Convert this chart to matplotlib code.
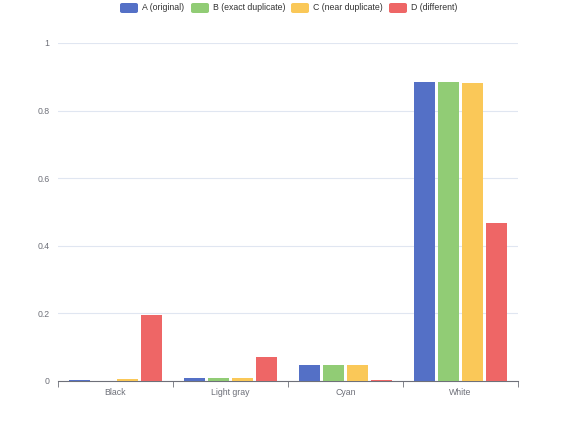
import matplotlib
matplotlib.use("Agg")
import matplotlib.pyplot as plt
from matplotlib.patches import FancyBboxPatch
import numpy as np

categories = ["Black", "Light gray", "Cyan", "White"]
series_names = ["A (original)", "B (exact duplicate)", "C (near duplicate)", "D (different)"]
vals_a = [0.002, 0.008, 0.047, 0.885]
vals_b = [0.001, 0.008, 0.047, 0.885]
vals_c = [0.005, 0.008, 0.046, 0.882]
vals_d = [0.196, 0.071, 0.002, 0.467]
colors = ["#5470c6", "#91cc75", "#fac858", "#ee6666"]
yticks = [0, 0.2, 0.4, 0.6, 0.8, 1]
ytick_labels = ["0", "0.2", "0.4", "0.6", "0.8", "1"]

plt.rcParams['font.family'] = ['Liberation Sans', 'DejaVu Sans']
fig = plt.figure(figsize=(5.76, 4.32), dpi=100)
ax = fig.add_axes([58/576, 1-381/432, 460/576, 338/432])

series = [vals_a, vals_b, vals_c, vals_d]
x = np.arange(len(categories))
w = 0.183
pitch = 0.209
for i, (vals, c) in enumerate(zip(series, colors)):
    ax.bar(x + (i - 1.5) * pitch, vals, width=w, color=c, zorder=3)

fs = 6.3
ax.set_xlim(-0.5, len(categories) - 0.5)
ax.set_ylim(0, 1)
ax.set_yticks(yticks)
ax.set_yticklabels(ytick_labels)
ax.grid(axis='y', color='#e0e6f1', linewidth=0.8, zorder=0)
for s in ['top', 'right', 'left']:
    ax.spines[s].set_visible(False)
ax.spines['bottom'].set_color('#6e7079')
ax.tick_params(axis='y', length=0, labelsize=fs, labelcolor='#6e7079', pad=6)
ax.set_xticks(x)
ax.set_xticklabels(categories)
ax.tick_params(axis='x', length=0, labelsize=fs, labelcolor='#6e7079', pad=5)
ax.set_xticks(np.arange(-0.5, len(categories), 1), minor=True)
ax.tick_params(axis='x', which='minor', length=4, color='#6e7079', direction='out')

# legend
legend_x = [120, 191, 291, 389]
for name, c, lx in zip(series_names, colors, legend_x):
    fx = lx / 576
    fy = 1 - 8 / 432
    p = FancyBboxPatch((fx, fy - 5/432), 18/576, 10/432,
                       boxstyle="round,pad=0,rounding_size=0.004",
                       transform=fig.transFigure, color=c, ec='none')
    fig.patches.append(p)
    fig.text(fx + 22/576, fy, name, fontsize=fs, color='#333333', va='center', ha='left')

fig.savefig("out.png", dpi=100)
